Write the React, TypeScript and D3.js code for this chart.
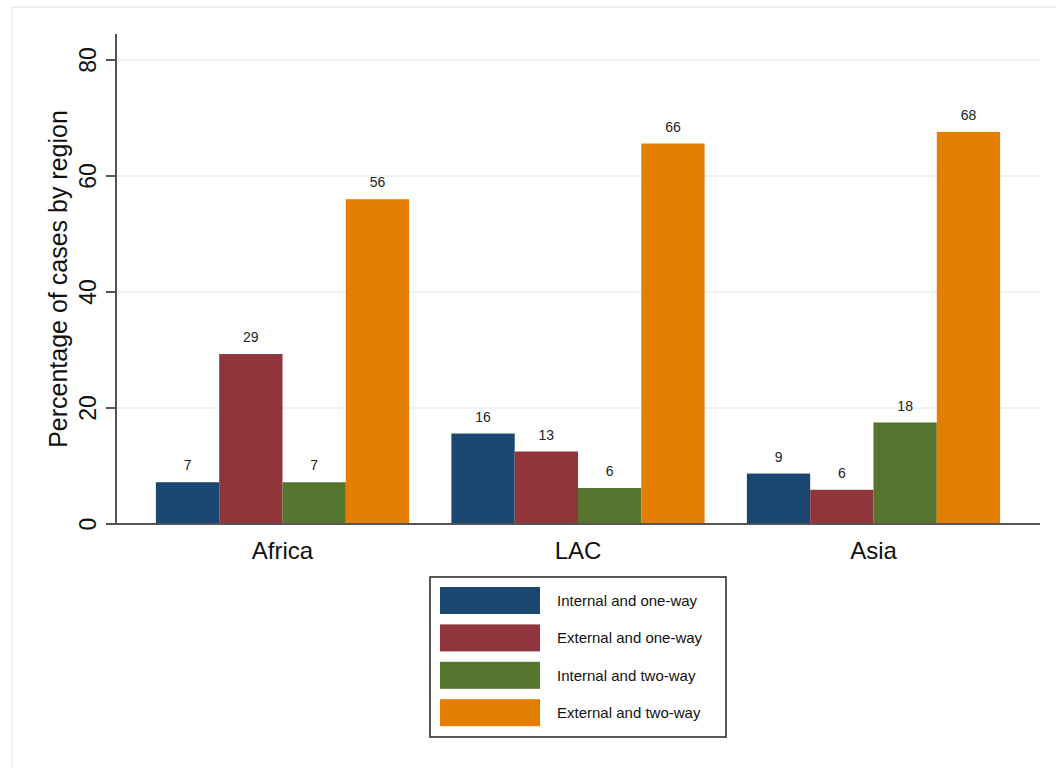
import React from "react";
import * as d3 from "d3";

const regions = ["Africa", "LAC", "Asia"];
const seriesNames = [
  "Internal and one-way",
  "External and one-way",
  "Internal and two-way",
  "External and two-way",
];
const colors = ["#1a476f", "#90353b", "#55752f", "#e37e00"];
const internalOneWay = [7.2, 15.6, 8.7];
const externalOneWay = [29.3, 12.5, 5.9];
const internalTwoWay = [7.2, 6.2, 17.5];
const externalTwoWay = [56.0, 65.6, 67.6];
const yTicks = [0, 20, 40, 60, 80];

const seriesValues = [internalOneWay, externalOneWay, internalTwoWay, externalTwoWay];

export default function App() {
  const W = 1056;
  const H = 768;
  const left = 116;
  const right = 1040;
  const y = d3.scaleLinear().domain([0, 80]).range([524, 60]);
  const x0 = d3
    .scaleBand<string>()
    .domain(regions)
    .range([left, right])
    .paddingInner(0.143)
    .paddingOuter(0.135);
  const x1 = d3
    .scaleBand<string>()
    .domain(seriesNames)
    .range([0, x0.bandwidth()])
    .padding(0);
  const font = "Liberation Sans, Arial, sans-serif";
  const legendX = 430;
  const legendY = 577;

  return (
    <svg
      width={W}
      height={H}
      style={{ position: "absolute", left: 0, top: 0, background: "#fff" }}
      fontFamily={font}
    >
      <rect x={12} y={7} width={W + 10} height={H + 10} fill="#fff" stroke="#eaf3f1" strokeWidth={2} />
      {/* gridlines */}
      {yTicks
        .filter((t) => t > 0)
        .map((t) => (
          <line key={"g" + t} x1={left} x2={right} y1={y(t)} y2={y(t)} stroke="#eaf2f3" strokeWidth={1.5} />
        ))}
      {/* bars */}
      {regions.map((r, i) =>
        seriesNames.map((s, j) => {
          const v = seriesValues[j][i];
          const bx = (x0(r) as number) + (x1(s) as number);
          const bw = x1.bandwidth();
          return (
            <g key={r + s}>
              <rect x={bx} y={y(v)} width={bw} height={y(0) - y(v)} fill={colors[j]} />
              <text
                x={bx + bw / 2}
                y={y(v) - 12}
                textAnchor="middle"
                fontSize={14}
                fill="#222"
              >
                {Math.round(v)}
              </text>
            </g>
          );
        })
      )}
      {/* y axis */}
      <line x1={left} x2={left} y1={34} y2={525} stroke="#555" strokeWidth={2} />
      {yTicks.map((t) => (
        <g key={"t" + t}>
          <line x1={106} x2={left} y1={y(t)} y2={y(t)} stroke="#555" strokeWidth={2} />
          <text
            transform={`translate(88,${y(t)}) rotate(-90)`}
            textAnchor="middle"
            dominantBaseline="central"
            fontSize={23}
            fill="#111"
          >
            {t}
          </text>
        </g>
      ))}
      <text
        transform={`translate(58,279) rotate(-90)`}
        textAnchor="middle"
        dominantBaseline="central"
        fontSize={25}
        fill="#111"
      >
        Percentage of cases by region
      </text>
      {/* x axis */}
      <line x1={left - 1} x2={right} y1={524} y2={524} stroke="#555" strokeWidth={2} />
      {regions.map((r) => (
        <text
          key={"x" + r}
          x={(x0(r) as number) + x0.bandwidth() / 2}
          y={559}
          textAnchor="middle"
          fontSize={24}
          fill="#111"
        >
          {r}
        </text>
      ))}
      {/* legend */}
      <rect x={legendX} y={legendY} width={296} height={160} fill="#fff" stroke="#222" strokeWidth={1.5} />
      {seriesNames.map((s, j) => (
        <g key={"l" + s}>
          <rect x={440} y={587 + j * 37.4} width={100} height={27} fill={colors[j]} />
          <text x={557} y={587 + j * 37.4 + 19} fontSize={15} fill="#111">
            {s}
          </text>
        </g>
      ))}
    </svg>
  );
}
